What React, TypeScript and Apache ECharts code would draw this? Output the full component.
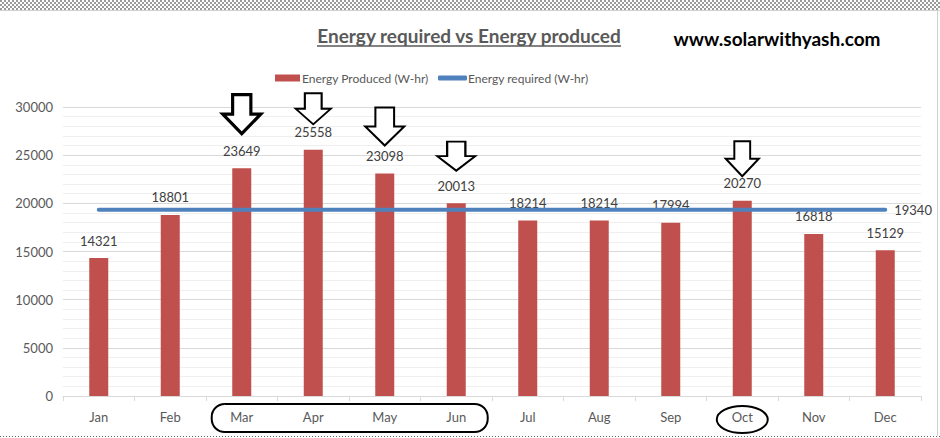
import React, { useEffect, useRef } from "react";
import * as echarts from "echarts";

const months = ["Jan", "Feb", "Mar", "Apr", "May", "Jun", "Jul", "Aug", "Sep", "Oct", "Nov", "Dec"];
const produced = [14321, 18801, 23649, 25558, 23098, 20013, 18214, 18214, 17994, 20270, 16818, 15129];
const required = [19340, 19340, 19340, 19340, 19340, 19340, 19340, 19340, 19340, 19340, 19340, 19340];
const yTicks = [0, 5000, 10000, 15000, 20000, 25000, 30000];
const arrowMonths = ["Mar", "Apr", "May", "Jun", "Oct"];
const arrowSizes = [[38, 39], [35, 31], [39, 38], [38, 29], [33, 35]];
const arrowOffsets = [54, 41, 47, 47, 42];
const arrowStrokes = [3.2, 2, 2, 2, 2];

const FONT = "Lato, 'Open Sans', sans-serif";
const ARROW = "path://M26,0 L74,0 L74,50 L100,50 L50,100 L0,50 L26,50 Z";

export default function App() {
  const ref = useRef<HTMLDivElement>(null);
  useEffect(() => {
    if (!ref.current) return;
    const chart = echarts.init(ref.current, null, { renderer: "svg" });
    const topPattern: any[] = [];
    for (let i = 0; i < 5; i++) {
      topPattern.push({
        type: "line",
        shape: { x1: 0, y1: 1 + i * 2, x2: 940, y2: 1 + i * 2 },
        style: { stroke: "#9a9a9a", lineWidth: 2, lineDash: [2, 2], lineDashOffset: i % 2 === 0 ? 0 : 2 },
        silent: true,
      });
    }
    const baseGraphic: any[] = [
      ...topPattern,
      { type: "line", shape: { x1: 0, y1: 10.5, x2: 940, y2: 10.5 }, style: { stroke: "#d0d0d0", lineWidth: 1 }, silent: true },
      { type: "line", shape: { x1: 937.5, y1: 10, x2: 937.5, y2: 436 }, style: { stroke: "#d0d0d0", lineWidth: 1 }, silent: true },
      { type: "line", shape: { x1: 0, y1: 436.5, x2: 940, y2: 436.5 }, style: { stroke: "#666", lineWidth: 1, lineDash: [1, 2] }, silent: true },
      {
        type: "text", x: 469, y: 35,
        style: { text: "Energy required vs Energy produced", fill: "#595959", font: `bold 19px ${FONT}`, textAlign: "center", textVerticalAlign: "middle" },
        silent: true,
      },
      { type: "line", shape: { x1: 317, y1: 46, x2: 621, y2: 46 }, style: { stroke: "#595959", lineWidth: 1.5 }, silent: true },
      {
        type: "text", x: 777, y: 38,
        style: { text: "www.solarwithyash.com", fill: "#000", font: `bold 19px ${FONT}`, textAlign: "center", textVerticalAlign: "middle" },
        silent: true,
      },
    ];
    const option: any = {
      animation: false,
      backgroundColor: "#fff",
      textStyle: { fontFamily: FONT },
      grid: { left: 63, right: 19, top: 107, bottom: 42, containLabel: false },
      legend: [
        {
          left: 270, top: 67, itemWidth: 25, itemHeight: 7,
          textStyle: { color: "#595959", fontSize: 12, fontFamily: FONT, padding: [0, 0, 0, -3] },
          data: [{ name: "Energy Produced (W-hr)", icon: "rect" }],
        },
        {
          left: 433, top: 67, itemWidth: 29, itemHeight: 5,
          textStyle: { color: "#595959", fontSize: 12, fontFamily: FONT, padding: [0, 0, 0, -4] },
          data: [{ name: "Energy required (W-hr)", icon: "roundRect" }],
        },
      ],
      xAxis: {
        type: "category", data: months, boundaryGap: true,
        axisLine: { lineStyle: { color: "#d9d9d9" } },
        axisTick: { show: true, length: 5, lineStyle: { color: "#d9d9d9" } },
        axisLabel: { color: "#595959", fontSize: 13, margin: 14, fontFamily: FONT },
        splitLine: { show: false },
      },
      yAxis: {
        type: "value", min: yTicks[0], max: yTicks[yTicks.length - 1], interval: 5000,
        axisLine: { show: false }, axisTick: { show: false },
        axisLabel: { color: "#595959", fontSize: 13, margin: 10, fontFamily: FONT, formatter: (v: number) => String(v) },
        splitLine: { lineStyle: { color: "#d9d9d9" } },
        minorTick: { show: false, splitNumber: 5 },
        minorSplitLine: { show: true, lineStyle: { color: "#efefef" } },
      },
      series: [
        {
          name: "Energy Produced (W-hr)", type: "bar", data: produced, barWidth: 19, z: 2,
          itemStyle: { color: "#C0504D" },
          label: { show: true, position: "top", distance: 11, color: "#404040", fontSize: 13, fontFamily: FONT },
          markPoint: {
            silent: true, animation: false, symbol: ARROW,
            label: { show: false },
            data: arrowMonths.map((m, i) => ({
              coord: [m, produced[months.indexOf(m)]],
              symbol: ARROW,
              symbolSize: arrowSizes[i],
              symbolOffset: [0, -arrowOffsets[i]],
              itemStyle: { color: "#fff", borderColor: "#000", borderWidth: arrowStrokes[i] },
            })),
          },
        },
        {
          name: "Energy required (W-hr)", type: "line", symbol: "none",
          data: required,
          lineStyle: { color: "#4F81BD", width: 4, cap: "round" },
          itemStyle: { color: "#4F81BD" },
          endLabel: { show: true, distance: 9, color: "#404040", fontSize: 13, fontFamily: FONT, formatter: (p: any) => String(p.value) },
          z: 2,
        },
      ],
      graphic: baseGraphic,
    };
    chart.setOption(option);
    const pMar = chart.convertToPixel({ xAxisIndex: 0, yAxisIndex: 0 }, ["Mar", 0]) as number[];
    const pJun = chart.convertToPixel({ xAxisIndex: 0, yAxisIndex: 0 }, ["Jun", 0]) as number[];
    const pOct = chart.convertToPixel({ xAxisIndex: 0, yAxisIndex: 0 }, ["Oct", 0]) as number[];
    const catW = (pJun[0] - pMar[0]) / 3;
    const axisY = pMar[1];
    chart.setOption({
      graphic: [
        ...baseGraphic,
        {
          type: "rect",
          shape: { x: pMar[0] - 0.42 * catW, y: axisY + 8, width: pJun[0] - pMar[0] + 0.86 * catW, height: 28, r: 13 },
          style: { fill: "none", stroke: "#000", lineWidth: 2 }, silent: true,
        },
        {
          type: "ellipse",
          shape: { cx: pOct[0], cy: axisY + 23.5, rx: 25.5, ry: 13.5 },
          style: { fill: "none", stroke: "#000", lineWidth: 2 }, silent: true,
        },
      ],
    }, { replaceMerge: ["graphic"] });
    return () => chart.dispose();
  }, []);
  return <div ref={ref} style={{ position: "absolute", left: 0, top: 0, width: 940, height: 438 }} />;
}
